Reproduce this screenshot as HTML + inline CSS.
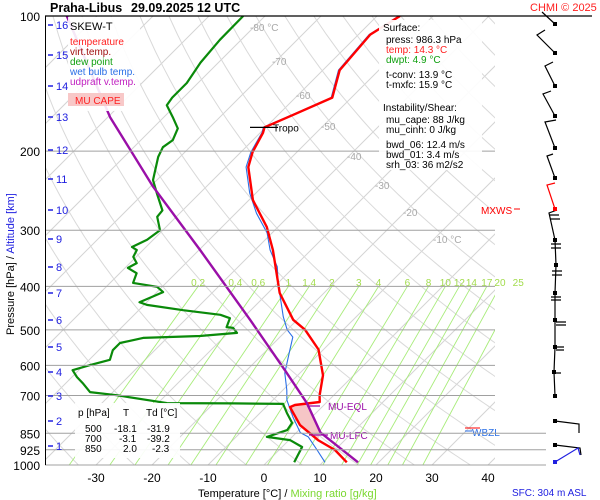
<!DOCTYPE html>
<html><head><meta charset="utf-8"><style>
body{margin:0;background:#fff;}
svg{display:block;font-family:"Liberation Sans",sans-serif;}
</style></head><body>
<svg id="c" width="600" height="500" viewBox="0 0 600 500">
<defs><clipPath id="pa"><rect x="45" y="16" width="450" height="449"/></clipPath></defs>
<g id="grid" clip-path="url(#pa)"></g>
<g id="marks"></g>
<g id="over"></g>
</svg>
<script>
// ---- data (pressure hPa / temperature °C) ----
const tempP=[986,926,880,815,743,735,724,700,631,553,500,475,414,332,295,257,217,201,182,177,166,152,132,110,100];
const tempT=[14.3,10.0,5.2,-0.7,-5.7,-5.2,-1.3,-2.5,-5.5,-10.9,-16.8,-20.7,-27.9,-36.8,-42,-49.3,-56,-57.9,-59.5,-60.2,-57.3,-53.4,-57,-57.9,-55.9];
const dewP=[986,912,880,866,836,806,766,731,729,728,699,688,657,637,615,599,583,555,535,521,516,508,495,493,471,463,452,440,434,412,401,393,374,364,355,344,332,327,315,300,280,271,248,232,206,196,189,178,168,158,152,141,127,113,100];
const dewT=[4.9,3.6,0.2,-4.5,-2.1,-2.5,-5.2,-7.5,-16.4,-28.4,-38.8,-44.1,-47,-49.1,-51.1,-48.9,-46.3,-47.5,-47.5,-44.3,-34.5,-28.4,-30,-31.3,-32.3,-34.6,-42.1,-49.5,-51.3,-48.9,-50.9,-55.9,-57,-59.5,-58.8,-60.5,-61.1,-62.5,-61.1,-60.5,-63.4,-63.6,-67.7,-70.7,-73.9,-74.8,-74.3,-75.5,-78.4,-81.6,-82,-82,-83.2,-83.8,-83.9];
const wbP=[986,926,866,847,782,717,681,624,555,519,500,468,393,362,332,304,275,248,217,201,182,177,166,152,132,110,100];
const wbT=[10.4,6.8,2.9,0.7,-3.4,-7.5,-9.3,-12.7,-15.9,-17.7,-20,-23,-30,-33,-37.3,-40.9,-46.3,-51.1,-56.4,-58.2,-59.7,-60.4,-57.5,-53.6,-57.2,-58.1,-56.1];
const parP=[986,847,728,615,475,332,240,168,100];
const parT=[16.3,4.3,-3.4,-13.2,-28.4,-49.8,-69.5,-89.6,-115.4];
const pLevels=[100,200,300,400,500,600,700,850,925,1000];
const tTicks=[-30,-20,-10,0,10,20,30,40];
const mixR=[0.2,0.4,0.6,1,1.4,2,3,4,6,8,10,12,14,17,20,25];
const kmTicks=[1,2,3,4,5,6,7,8,9,10,11,12,13,14,15,16];
const kmY=[446,421,396,372,347,320,293,267,239,210,179,150,117,86,55,25];

const NS='http://www.w3.org/2000/svg';
function Y(p){return 16+449*Math.log10(p/100);}
function X(T,p){return 264+5.6*T+(465-Y(p));}
function el(tag,attrs,parent,txt){const e=document.createElementNS(NS,tag);for(const k in attrs)e.setAttribute(k,attrs[k]);if(txt!==undefined)e.textContent=txt;parent.appendChild(e);return e;}
const grid=document.getElementById('grid'),marks=document.getElementById('marks'),over=document.getElementById('over'),svg=document.getElementById('c');

for(let T=-160;T<=50;T+=10){
 const l=el('line',{x1:X(T,1000),y1:Y(1000),x2:X(T,100),y2:Y(100),stroke:'#d4d4d4','stroke-width':1},grid);
 
 
}
for(let th=220;th<=480;th+=10){
 let d='';
 for(let p=1000;p>=100;p-=10){const T=th*Math.pow(p/1000,0.286)-273.15;d+=(p===1000?'M':'L')+X(T,p).toFixed(1)+','+Y(p).toFixed(1);}
 const a=el('path',{d:d,fill:'none',stroke:'#d9d9d9','stroke-width':1},grid);
 
 
}
function tdOf(w,p){const e=w*p/(622+w);const g=Math.log(e/6.112);return 243.5*g/(17.67-g);}
mixR.forEach(w=>{
 const m=el('line',{x1:X(tdOf(w,1000),1000),y1:Y(1000),x2:X(tdOf(w,400),400),y2:Y(400),stroke:'#a8ec7a','stroke-width':0.9},grid);
 
 
 const t=el('text',{x:X(tdOf(w,400),400),y:Y(400)-0.5,'font-size':10,fill:'#a2dc4c','text-anchor':'middle'},svg,String(w));
 
 
});
pLevels.forEach(p=>{
 const xe=p>=850?546:495;
 const l=el('line',{x1:45,y1:Y(p),x2:xe,y2:Y(p),stroke:p===100?'#000':'#a0a0a0','stroke-width':p===100?1.2:1},svg);
 
 
 const t=el('text',{x:40,y:Y(p)+5,'font-size':12,'text-anchor':'end',fill:'#000'},svg,String(p));
 
 
});
el('line',{x1:495,y1:16,x2:592,y2:16,stroke:'#000','stroke-width':1.2},svg);
el('line',{x1:45.5,y1:16,x2:45.5,y2:465,stroke:'#000','stroke-width':1},svg);
tTicks.forEach(T=>{
 const t=el('text',{x:X(T,1000),y:482,'font-size':12,'text-anchor':'middle',fill:'#000'},svg,String(T));
 
 
});
kmTicks.forEach((k,i)=>{
 el('line',{x1:48,y1:kmY[i],x2:53,y2:kmY[i],stroke:'#2020e0','stroke-width':1.5},svg);
 const t=el('text',{x:56,y:kmY[i]+4,'font-size':11,fill:'#2020e0'},svg,String(k));
 
 
});

function line(P,T,color,w,name,parent){
 let d='';P.forEach((p,i)=>{d+=(i?'L':'M')+X(T[i],p).toFixed(1)+','+Y(p).toFixed(1);});
 const e=el('path',{d:d,fill:'none',stroke:color,'stroke-width':w,'stroke-linejoin':'round'},parent||marks);
 
 
 return e;
}
(function(){
 let d='M'+X(parT[1],parP[1])+','+Y(parP[1])+'L'+X(parT[2],parP[2])+','+Y(parP[2]);
 for(let i=tempP.length-1;i>=0;i--){const p=tempP[i];if(p>=728&&p<=880)d+='L'+X(tempT[i],p)+','+Y(p);}
 d+='Z';
 const c=el('path',{d:d,fill:'#f6c6c6',stroke:'none'},marks);
 
 
})();
const mk=document.createElementNS(NS,'g');marks.appendChild(mk);mk.setAttribute('clip-path','url(#pa)');
line(dewP,dewT,'#0a8a0a',2.2,'dewpoint-line',mk);
line(wbP,wbT,'#2a6fe6',1.1,'wet-bulb-line',mk);
line(tempP,tempT,'#ff0000',2.4,'temperature-line',mk);
line(parP,parT,'#9a0fa8',2.4,'parcel-line',mk);

el('line',{x1:250,y1:Y(177),x2:278,y2:Y(177),stroke:'#000','stroke-width':1.2},over);
el('text',{x:273,y:Y(177)+4,'font-size':10,fill:'#000'},over,'Tropo');
el('line',{x1:307,y1:406,x2:320,y2:406,stroke:'#9a0fa8','stroke-width':1.3},over);
el('text',{x:328,y:410,'font-size':10,fill:'#9a0fa8'},over,'MU-EQL');
el('line',{x1:309,y1:435,x2:328,y2:435,stroke:'#9a0fa8','stroke-width':1.3},over);
el('text',{x:330,y:439,'font-size':10,fill:'#9a0fa8'},over,'MU-LFC');
el('line',{x1:465,y1:428,x2:480,y2:428,stroke:'#ff0000','stroke-width':1},over);
el('line',{x1:465,y1:431,x2:472,y2:431,stroke:'#2a6fe6','stroke-width':1},over);
el('text',{x:472,y:436,'font-size':10,fill:'#2a6fe6'},over,'WBZL');
el('text',{x:481,y:214,'font-size':10,fill:'#ff0000'},over,'MXWS');
el('line',{x1:514,y1:209,x2:520,y2:209,stroke:'#ff0000','stroke-width':1},over);
[['-80 °C',250,31],['-70',272,65],['-60',296,99],['-50',321,130],['-40',347,160],['-30',375,189],['-20',403,216],['-10 °C',433,243]].forEach(a=>{
 el('text',{x:a[1],y:a[2],'font-size':10,fill:'#a8a8a8'},over,a[0]);
});
</script>
<svg width="600" height="500" style="position:absolute;left:0;top:0">
<text x="50" y="12" font-family="Liberation Sans" font-size="12.5" font-weight="bold">Praha-Libus</text>
<text x="131" y="12" font-family="Liberation Sans" font-size="12.5" font-weight="bold">29.09.2025 12 UTC</text>
<text x="530" y="11" font-family="Liberation Sans" font-size="11" fill="#ff2020">CHMI © 2025</text>
<g font-family="Liberation Sans" font-size="10">
<rect x="68" y="17" width="72" height="94" fill="#fff" opacity="0.9"/>
<text x="70" y="30" font-size="11" fill="#000">SKEW-T</text>
<text x="70" y="45" fill="#ff2020">temperature</text>
<text x="70" y="55" fill="#a01010">virt.temp.</text>
<text x="70" y="65" fill="#10a010">dew point</text>
<text x="70" y="75" fill="#2a6fe6">wet bulb temp.</text>
<text x="70" y="85" fill="#c020c0">udpraft v.temp.</text>
<rect x="68" y="93" width="56" height="13" fill="#f8c8c8"/>
<text x="75" y="104" fill="#ff2020">MU CAPE</text>
</g>
<g font-family="Liberation Sans" font-size="10">
<rect x="379" y="20" width="103" height="150" fill="#fff" opacity="0.92"/>
<text x="383" y="31">Surface:</text>
<text x="386" y="43">press: 986.3 hPa</text>
<text x="386" y="53" fill="#ff2020">temp: 14.3 °C</text>
<text x="386" y="63" fill="#10a010">dwpt: 4.9 °C</text>
<text x="386" y="78">t-conv: 13.9 °C</text>
<text x="386" y="88">t-mxfc: 15.9 °C</text>
<text x="383" y="111">Instability/Shear:</text>
<text x="386" y="123">mu_cape: 88 J/kg</text>
<text x="386" y="133">mu_cinh: 0 J/kg</text>
<text x="386" y="148">bwd_06: 12.4 m/s</text>
<text x="386" y="158">bwd_01: 3.4 m/s</text>
<text x="386" y="168">srh_03: 36 m2/s2</text>
</g>
<g font-family="Liberation Sans" font-size="10">
<rect x="75" y="403" width="105" height="55" fill="#fff" opacity="0.92"/>
<text x="78" y="416">p [hPa]</text><text x="123" y="416">T</text><text x="146" y="416">Td [°C]</text>
<text x="85" y="432">500</text><text x="114" y="432">-18.1</text><text x="147" y="432">-31.9</text>
<text x="85" y="442">700</text><text x="119" y="442">-3.1</text><text x="147" y="442">-39.2</text>
<text x="85" y="452">850</text><text x="123" y="452">2.0</text><text x="152" y="452">-2.3</text>
</g>
<text x="198" y="497" font-family="Liberation Sans" font-size="11">Temperature [°C]  /  <tspan fill="#7ad830">Mixing ratio [g/kg]</tspan></text>
<g transform="translate(14,335) rotate(-90)" font-family="Liberation Sans" font-size="11"><text x="0" y="0">Pressure [hPa]  /  <tspan fill="#2020e0">Altitude [km]</tspan></text></g>
<text x="512" y="496" font-family="Liberation Sans" font-size="10" fill="#2020e0">SFC: 304 m ASL</text>
<g stroke="#000" stroke-width="1.2" fill="none">
<polyline points="555,24 542,12"/><polyline points="555,53 537,35 545,30"/>
<polyline points="555,86 545,66 553,62"/><polyline points="555,116 543,94 551,91"/>
<polyline points="555,148 545,122 556,120"/><polyline points="555,178 547,156 553,154"/>
<polyline points="555,209 547,185 555,183" stroke="#ff0000"/><polyline points="555,240 549,213 557,210"/>
<polyline points="555,240 556,265 555,293 555,320 555,347 554,372 555,396"/>
<path d="M549,215h10M550,219h10M551,244h10M551,248h10M552,271h10M552,275h10M551,297h10M551,300h10M556,322h10M556,325h10M556,347h8M556,350h8M553,373h8"/>
<polyline points="555,421 579,424 579,433"/><polyline points="555,445 580,448 581,455"/>
<polyline points="555,462 578,448 580,455" stroke="#2020e0"/>
</g>
<g fill="#000">
<rect x="553" y="22" width="4" height="4"/><rect x="553" y="51" width="4" height="4"/><rect x="553" y="84" width="4" height="4"/><rect x="553" y="114" width="4" height="4"/><rect x="553" y="146" width="4" height="4"/><rect x="553" y="176" width="4" height="4"/><rect x="553" y="207" width="4" height="4" fill="#f00"/><rect x="553" y="238" width="4" height="4"/><rect x="554" y="263" width="4" height="4"/><rect x="553" y="291" width="4" height="4"/><rect x="553" y="318" width="4" height="4"/><rect x="553" y="345" width="4" height="4"/><rect x="552" y="370" width="4" height="4"/><rect x="553" y="394" width="4" height="4"/><rect x="553" y="419" width="4" height="4"/><rect x="553" y="443" width="4" height="4"/><rect x="553" y="460" width="4" height="4" fill="#2020e0"/>
</g>
</svg>
</body></html>
